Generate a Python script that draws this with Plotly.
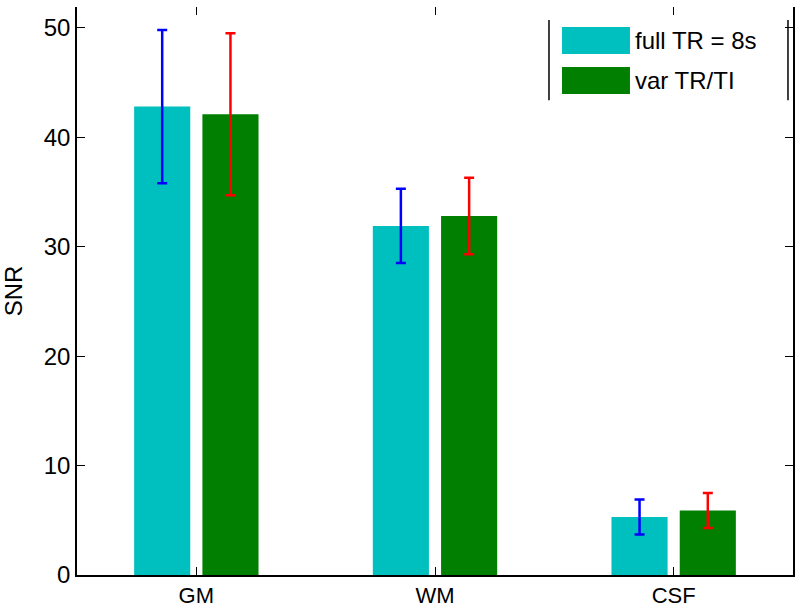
import plotly.graph_objects as go

categories = ["GM", "WM", "CSF"]
series_names = ["full TR = 8s", "var TR/TI"]
full_tr = [42.8, 31.9, 5.3]
full_tr_err = [7.0, 3.4, 1.6]
var_tr = [42.1, 32.8, 5.9]
var_tr_err = [7.4, 3.5, 1.6]
y_ticks = [0, 10, 20, 30, 40, 50]

bar_colors = ["#00BFBF", "#007F00"]
err_colors = ["#0000FF", "#FF0000"]
FONT = "Liberation Sans, Arial, sans-serif"

fig = go.Figure()
for name, vals, errs, bc, ec in [
    (series_names[0], full_tr, full_tr_err, bar_colors[0], err_colors[0]),
    (series_names[1], var_tr, var_tr_err, bar_colors[1], err_colors[1]),
]:
    fig.add_trace(go.Bar(
        x=categories, y=vals, name=name,
        marker=dict(color=bc, line=dict(width=0)),
        error_y=dict(type="data", array=errs, color=ec, thickness=2.5, width=5),
        showlegend=False,
    ))

# top mirrored ticks without top line
fig.add_trace(go.Scatter(x=categories, y=[None]*3, xaxis="x2", showlegend=False, hoverinfo="skip"))

fig.update_layout(
    width=800, height=608,
    margin=dict(l=77, r=7, t=7, b=33),
    paper_bgcolor="white", plot_bgcolor="white",
    barmode="group", bargap=0.428, bargroupgap=0.178,
    font=dict(family=FONT, size=24, color="black"),
    xaxis=dict(
        type="category", range=[-0.5, 2.5], automargin=False,
        showline=True, linecolor="black", linewidth=1.5,
        ticks="inside", ticklen=8, tickcolor="black", tickwidth=1,
        showgrid=False, zeroline=False,
        tickfont=dict(size=22),
    ),
    xaxis2=dict(
        type="category", range=[-0.5, 2.5], overlaying="x", side="top", automargin=False,
        showline=False, ticks="inside", ticklen=8, tickcolor="black",
        showticklabels=False, showgrid=False, zeroline=False,
        tickvals=categories,
    ),
    yaxis=dict(
        range=[0, 51.9], tickvals=y_ticks, automargin=False,
        showline=True, linecolor="black", linewidth=1.5, mirror="ticks",
        ticks="inside", ticklen=8, tickcolor="black",
        showgrid=False, zeroline=False,
        title=dict(text="SNR", standoff=14, font=dict(size=24)),
        tickfont=dict(size=24),
    ),
)

# legend drawn manually to match the large swatches
legend_rows = [(0.9648, 0.9173), (0.8944, 0.8468)]
for (y1, y0), color, label in zip(legend_rows, bar_colors, series_names):
    fig.add_shape(type="rect", xref="paper", yref="paper",
                  x0=0.6774, x1=0.7723, y0=y0, y1=y1,
                  fillcolor=color, line=dict(width=0))
    fig.add_annotation(xref="paper", yref="paper", x=0.7765, y=(y0 + y1) / 2,
                       text=label, showarrow=False, xanchor="left", yanchor="middle",
                       font=dict(size=24, family=FONT, color="black"))
for xv in (0.6592, 0.993):
    fig.add_shape(type="line", xref="paper", yref="paper",
                  x0=xv, x1=xv, y0=0.836, y1=0.977,
                  line=dict(color="black", width=1.5))

fig.write_html("out.html", config={"displayModeBar": False},
               post_script="document.body.style.margin='0';document.body.style.overflow='hidden';")
